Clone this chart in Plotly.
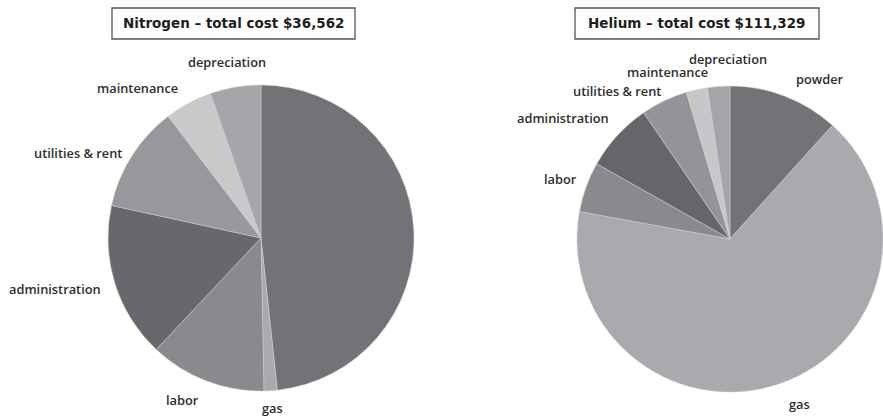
import plotly.graph_objects as go

W, H = 883, 417

# Cost breakdown per shielding gas (US$)
categories = ["powder", "gas", "labor", "administration",
              "utilities & rent", "maintenance", "depreciation"]
nitrogen_cost = [17660, 510, 4500, 6000, 4100, 1830, 1962]
helium_cost = [13000, 73700, 5900, 8100, 5500, 2500, 2629]
nitrogen_total = "$36,562"
helium_total = "$111,329"

# Slice shades (same order as categories)
nitrogen_colors = ["#717376", "#a9aaad", "#898a8d", "#67686b",
                   "#97989b", "#c8c9cb", "#a5a6a9"]
helium_colors = ["#717376", "#a9aaad", "#898a8d", "#656669",
                 "#939497", "#c6c7c9", "#a4a5a8"]

# Label placement in pixels (x, y) for each pie
nitrogen_label_px = {
    "depreciation": (227, 62), "maintenance": (137, 88),
    "utilities & rent": (78, 153), "administration": (55, 289),
    "labor": (182, 400), "gas": (272, 408),
}
helium_label_px = {
    "depreciation": (728, 59), "maintenance": (667, 72),
    "utilities & rent": (617, 91), "administration": (563, 118),
    "labor": (560, 179), "powder": (820, 79), "gas": (799, 404),
}


def px_x(x):
    return min(max(x / W, 0.0), 1.0)


def px_y(y):
    return min(max(1 - y / H, 0.0), 1.0)


def pie(values, colors, cx, cy, r):
    return go.Pie(
        labels=categories, values=values, sort=False,
        direction="clockwise", rotation=0,
        marker=dict(colors=colors, line=dict(color="#cfd0d2", width=0.5)),
        textinfo="none", hoverinfo="label+value", showlegend=False,
        domain=dict(x=[px_x(cx - r), px_x(cx + r)],
                    y=[px_y(cy + r), px_y(cy - r)]),
    )


fig = go.Figure()
fig.add_trace(pie(nitrogen_cost, nitrogen_colors, 261, 238, 153))
fig.add_trace(pie(helium_cost, helium_colors, 730, 239, 153))

annotations = []
label_font = dict(family="Open Sans, Noto Sans, sans-serif", size=12.8,
                  color="#2e2e2e", weight=600)
for mapping in (nitrogen_label_px, helium_label_px):
    for name, (x, y) in mapping.items():
        annotations.append(dict(
            x=px_x(x), y=px_y(y), xref="paper", yref="paper",
            text=name, showarrow=False, xanchor="center", yanchor="middle",
            font=label_font,
        ))

title_font = dict(family="DejaVu Sans, Verdana, sans-serif", size=13.5, color="#1e1e1e")
shapes = []
for (x0, x1), text in (((112, 355), f"<b>Nitrogen – total cost {nitrogen_total}</b>"),
                       ((575, 819), f"<b>Helium – total cost {helium_total}</b>")):
    shapes.append(dict(
        type="rect", xref="paper", yref="paper",
        x0=px_x(x0), x1=px_x(x1), y0=px_y(39), y1=px_y(8),
        line=dict(color="#555555", width=1.3), fillcolor="white",
    ))
    annotations.append(dict(
        x=px_x((x0 + x1) / 2), y=px_y(23.5), xref="paper", yref="paper",
        text=text, showarrow=False, xanchor="center", yanchor="middle",
        font=title_font,
    ))

fig.update_layout(
    width=W, height=H,
    margin=dict(l=0, r=0, t=0, b=0),
    paper_bgcolor="white", plot_bgcolor="white",
    annotations=annotations, shapes=shapes,
)

fig.write_html("out.html")
